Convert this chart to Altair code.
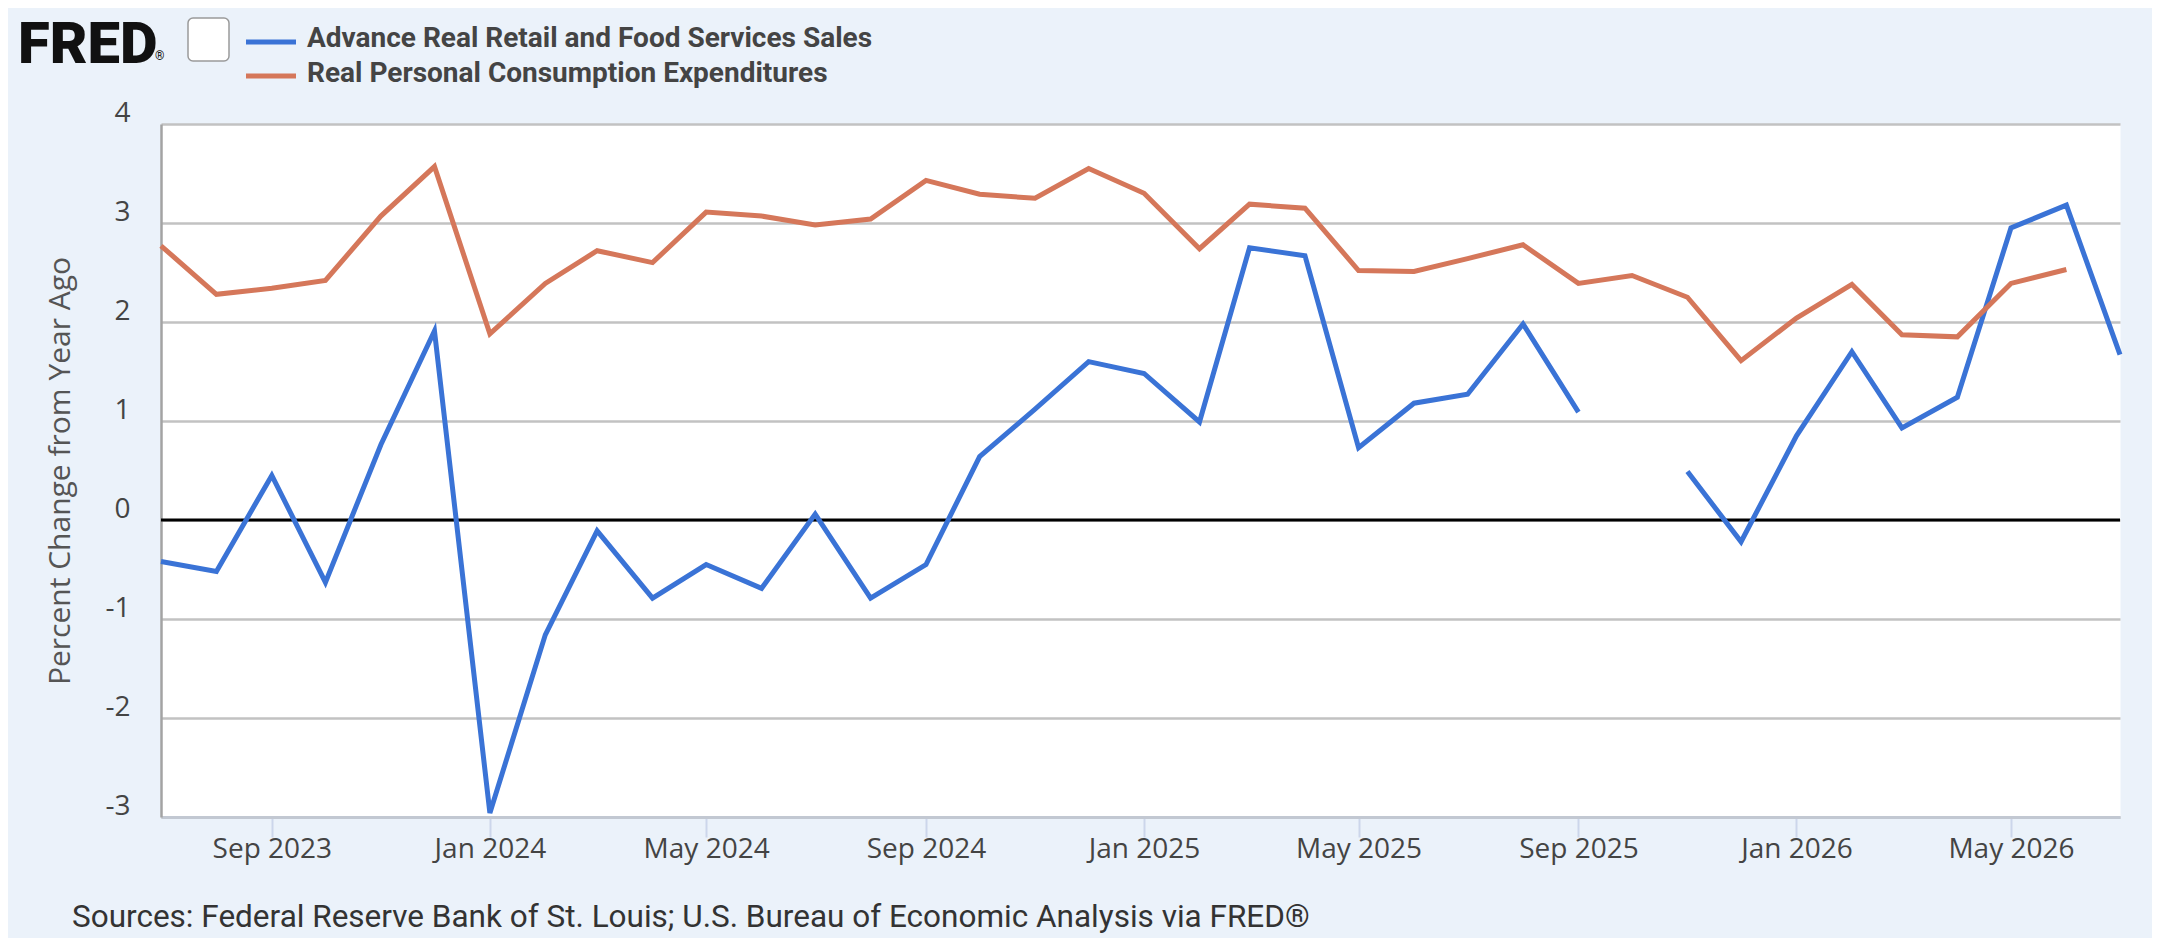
import altair as alt
import pandas as pd

# ---- data ----
months = pd.date_range("2023-07-01", "2026-07-01", freq="MS").strftime("%Y-%m-%d").tolist()

series_names = ["Advance Real Retail and Food Services Sales",
                "Real Personal Consumption Expenditures"]
series_colors = ["#3A73D6", "#D5775A"]

retail = [-0.42, -0.52, 0.45, -0.63, 0.76, 1.91, -2.96, -1.16, -0.11, -0.79,
          -0.45, -0.69, 0.06, -0.79, -0.45, 0.64, 1.12, 1.60, 1.48, 0.99,
          2.75, 2.67, 0.73, 1.18, 1.27, 1.98, 1.09, None, 0.49, -0.22,
          0.85, 1.70, 0.93, 1.24, 2.95, 3.18, 1.67]

pce = [2.77, 2.28, 2.34, 2.42, 3.07, 3.57, 1.88, 2.39, 2.72, 2.60,
       3.11, 3.07, 2.98, 3.04, 3.43, 3.29, 3.25, 3.55, 3.30, 2.74,
       3.19, 3.15, 2.52, 2.51, 2.64, 2.78, 2.39, 2.47, 2.25, 1.61,
       2.04, 2.38, 1.87, 1.85, 2.39, 2.53, None]

tick_months = [(2023, 9), (2024, 1), (2024, 5), (2024, 9), (2025, 1),
               (2025, 5), (2025, 9), (2026, 1), (2026, 5)]
y_ticks = [-3, -2, -1, 0, 1, 2, 3, 4]

y_title = "Percent Change from Year Ago"
source_text = "Sources: Federal Reserve Bank of St. Louis; U.S. Bureau of Economic Analysis via FRED®"

df = pd.DataFrame({
    "date": months + months,
    "value": retail + pce,
    "series": [series_names[0]] * len(months) + [series_names[1]] * len(months),
})

W, H = 1959, 693

x_enc = alt.X(
    "date:T",
    scale=alt.Scale(type="utc", domain=[alt.DateTime(year=2023, month=7, date=1, utc=True),
                                        alt.DateTime(year=2026, month=7, date=1, utc=True)]),
    axis=alt.Axis(
        values=[alt.DateTime(year=y, month=m, date=1, utc=True) for y, m in tick_months],
        format="%b %Y", grid=False,
        labelFont="Open Sans", labelFontSize=28, labelColor="#444444",
        domainColor="#C2C8D2", domainWidth=3,
        tickColor="#CCD6EB", tickWidth=2, tickSize=20,
        labelBaseline="alphabetic", labelPadding=20,
        labelFlush=False, labelOverlap=False,
    ),
    title=None,
)

y_enc = alt.Y(
    "value:Q",
    scale=alt.Scale(domain=[-3, 4], nice=False, zero=False),
    axis=alt.Axis(
        values=y_ticks, labelExpr="'' + datum.value", grid=True, gridColor="#C2C2C2", gridWidth=2.5,
        domainColor="#A3A3A3", domainWidth=2.5, ticks=False,
        labelFont="Open Sans", labelFontSize=28, labelColor="#444444",
        labelPadding=31, labelOffset=-11, labelOverlap=False,
        titleFont="Open Sans", titleFontSize=30, titleFontWeight="normal",
        titleColor="#555555", titleX=-101, titleY=H / 2, titleAngle=270,
        titleBaseline="middle", titleAlign="center",
    ),
    title=y_title,
)

lines = alt.Chart(df).mark_line(strokeWidth=5, invalid="break-paths-show-domains").encode(
    x=x_enc, y=y_enc,
    color=alt.Color("series:N", scale=alt.Scale(domain=series_names, range=series_colors), legend=None),
)

one = pd.DataFrame({"k": [0]})

zero = alt.Chart(one).mark_rule(color="black", strokeWidth=3).encode(y=alt.datum(0))

fred = alt.Chart(one).mark_text(text="FRED", font="Roboto", fontSize=58, fontWeight=900,
                                color="#111111", align="left", baseline="alphabetic").encode(
    x=alt.value(-143), y=alt.value(-61))
reg = alt.Chart(one).mark_text(text="®", font="Roboto", fontSize=12, color="#111111",
                               align="left", baseline="alphabetic").encode(
    x=alt.value(-6), y=alt.value(-64))
icon = alt.Chart(one).mark_rect(fill="white", stroke="#9A9A9A", strokeWidth=1.5, cornerRadius=5).encode(
    x=alt.value(27), x2=alt.value(68), y=alt.value(-106), y2=alt.value(-63))

leg_rule_1 = alt.Chart(one).mark_rule(color=series_colors[0], strokeWidth=5).encode(
    x=alt.value(85), x2=alt.value(135), y=alt.value(-82))
leg_rule_2 = alt.Chart(one).mark_rule(color=series_colors[1], strokeWidth=5).encode(
    x=alt.value(85), x2=alt.value(135), y=alt.value(-48))
leg_text_1 = alt.Chart(one).mark_text(text=series_names[0], font="Roboto", fontSize=28, fontWeight="bold",
                                      color="#444444", align="left", baseline="middle").encode(
    x=alt.value(146), y=alt.value(-85))
leg_text_2 = alt.Chart(one).mark_text(text=series_names[1], font="Roboto", fontSize=28, fontWeight="bold",
                                      color="#444444", align="left", baseline="middle").encode(
    x=alt.value(146), y=alt.value(-50))

src = alt.Chart(one).mark_text(text=source_text, font="Roboto", fontSize=31.5, color="#333333",
                               align="left", baseline="alphabetic").encode(
    x=alt.value(-89), y=alt.value(803))

chart = alt.layer(
    zero, lines, fred, reg, icon, leg_rule_1, leg_rule_2, leg_text_1, leg_text_2, src
).properties(
    width=W, height=H,
    padding={"left": 153, "top": 116, "right": 32, "bottom": 121},
    autosize=alt.AutoSizeParams(type="none"),
).configure(
    background="#EBF2FA",
).configure_view(
    fill="white", stroke="transparent",
)

chart.save("out.html", embed_options={"renderer": "svg", "actions": False})
